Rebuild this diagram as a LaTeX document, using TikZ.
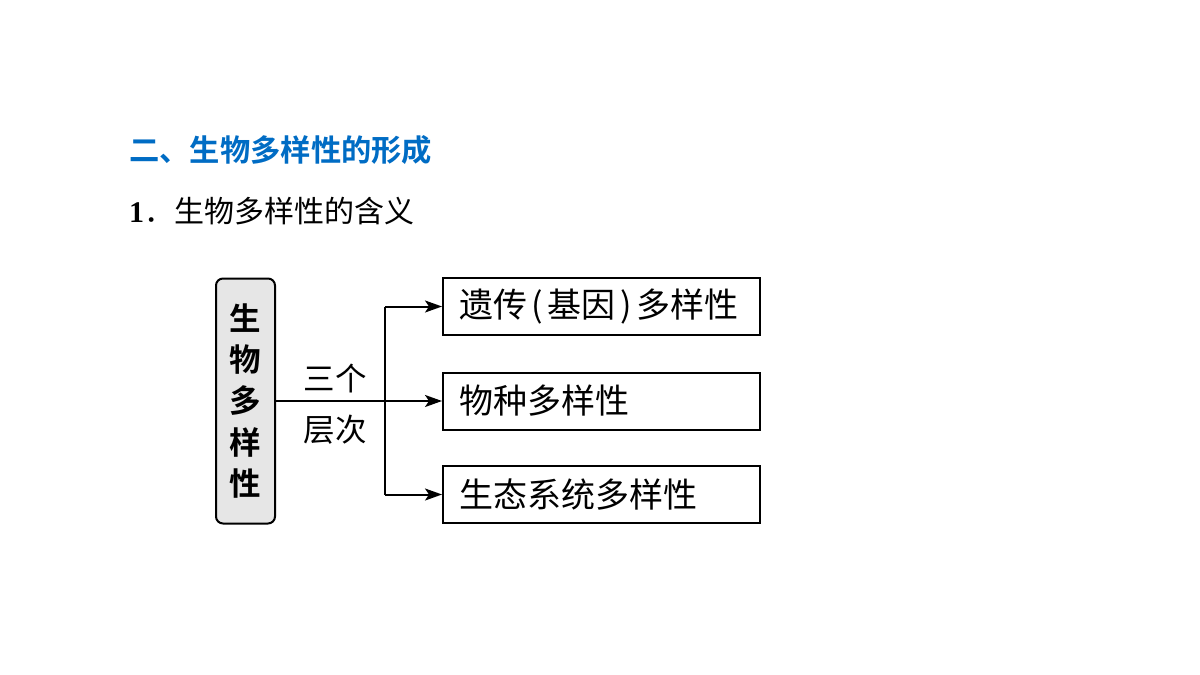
\documentclass[tikz,border=0pt]{standalone}
\usepackage{fontspec}
\usetikzlibrary{arrows.meta}
\newfontfamily\cjk[BoldFont={Noto Sans CJK SC Bold}]{Noto Sans CJK SC}
\newfontfamily\numfont{Liberation Serif}
\definecolor{titleblue}{RGB}{0,108,196}
\definecolor{boxgray}{RGB}{230,230,230}
\newcommand{\pslot}[1]{\makebox[21pt]{#1}}
\tikzset{
  conn/.style={line width=2pt, draw=black},
  arr/.style={conn, -{Stealth[length=17pt, width=12pt, inset=4pt]}},
  leaf/.style={draw, line width=2pt, minimum width=317pt, minimum height=57pt,
    text width=285pt, inner xsep=16pt, align=left, inner ysep=0pt,
    font=\cjk\fontsize{34}{35}\selectfont},
  lbl/.style={inner sep=0pt, font=\cjk\fontsize{31.5}{33}\selectfont}
}
\begin{document}
\begin{tikzpicture}[x=1pt,y=-1pt]
\path[use as bounding box] (0,0) rectangle (1200,675);
\node[anchor=west, inner sep=0pt, text=titleblue, font=\cjk\bfseries\fontsize{30.3}{32}\selectfont] (title) at (129,150) {二、生物多样性的形成};
\node[anchor=west, inner sep=0pt, font=\cjk\fontsize{30}{32}\selectfont] (sub) at (129,211) {{\numfont\bfseries 1}．生物多样性的含义};
\node[draw, line width=2pt, rounded corners=7pt, fill=boxgray, minimum width=59pt, minimum height=245pt,
  align=center, inner sep=0pt, font=\cjk\bfseries\fontsize{31.5}{41.3}\selectfont] (main) at (245.5,401) {生\\物\\多\\样\\性};
\node[leaf] (b1) at (601.5,306.5) {遗传\pslot{(}基因\pslot{)}多样性};
\node[leaf] (b2) at (601.5,401) {物种多样性};
\node[leaf] (b3) at (601.5,494.5) {生态系统多样性};
\coordinate (j) at (385,401);
\draw[arr] (main.east) -- (b2.west);
\draw[conn] (j |- b1.west) -- (j |- b3.west);
\draw[arr] (j |- b1.west) -- (b1.west);
\draw[arr] (j |- b3.west) -- (b3.west);
\node[lbl] (l1) at (335,378) {三个};
\node[lbl] (l2) at (335,430) {层次};
\end{tikzpicture}
\end{document}
